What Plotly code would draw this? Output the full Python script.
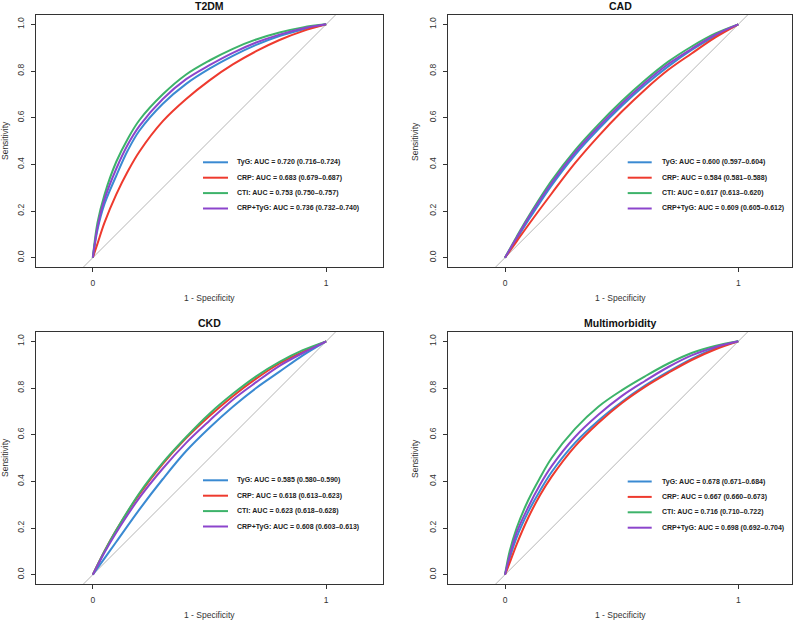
import plotly.graph_objects as go

# ---------------- data ----------------
titles = ["T2DM", "CAD", "CKD", "Multimorbidity"]
markers = ["TyG", "CRP", "CTI", "CRP+TyG"]
colors = ["#3A8AD2", "#EE3A2E", "#3DB36A", "#8C45CC"]

fpr_t2dm = [0, 0.02, 0.05, 0.1, 0.15, 0.2, 0.3, 0.4, 0.5, 0.6, 0.7, 0.8, 0.9, 1.0]
tpr_t2dm = {
    "TyG":     [0, 0.12, 0.23, 0.35, 0.46, 0.545, 0.66, 0.745, 0.81, 0.865, 0.912, 0.95, 0.978, 1],
    "CRP":     [0, 0.06, 0.15, 0.27, 0.37, 0.455, 0.585, 0.68, 0.76, 0.828, 0.885, 0.933, 0.971, 1],
    "CTI":     [0, 0.15, 0.27, 0.41, 0.51, 0.59, 0.70, 0.785, 0.845, 0.895, 0.935, 0.965, 0.987, 1],
    "CRP+TyG": [0, 0.13, 0.25, 0.38, 0.485, 0.565, 0.68, 0.765, 0.825, 0.878, 0.922, 0.956, 0.982, 1],
}
fpr_cad = [0, 0.05, 0.1, 0.2, 0.3, 0.4, 0.5, 0.6, 0.7, 0.8, 0.9, 1.0]
tpr_cad = {
    "TyG":     [0, 0.08, 0.16, 0.31, 0.44, 0.55, 0.65, 0.74, 0.82, 0.89, 0.95, 1],
    "CRP":     [0, 0.07, 0.14, 0.275, 0.405, 0.52, 0.625, 0.72, 0.805, 0.875, 0.943, 1],
    "CTI":     [0, 0.09, 0.175, 0.33, 0.46, 0.57, 0.67, 0.76, 0.84, 0.905, 0.96, 1],
    "CRP+TyG": [0, 0.085, 0.17, 0.32, 0.45, 0.56, 0.66, 0.75, 0.83, 0.895, 0.955, 1],
}
fpr_ckd = [0, 0.05, 0.1, 0.2, 0.3, 0.4, 0.5, 0.6, 0.7, 0.8, 0.9, 1.0]
tpr_ckd = {
    "TyG":     [0, 0.07, 0.14, 0.28, 0.41, 0.53, 0.63, 0.72, 0.80, 0.87, 0.94, 1],
    "CRP":     [0, 0.10, 0.19, 0.345, 0.475, 0.585, 0.68, 0.765, 0.84, 0.905, 0.955, 1],
    "CTI":     [0, 0.10, 0.19, 0.35, 0.48, 0.59, 0.69, 0.775, 0.85, 0.912, 0.962, 1],
    "CRP+TyG": [0, 0.095, 0.18, 0.33, 0.455, 0.565, 0.66, 0.75, 0.825, 0.895, 0.95, 1],
}
fpr_mm = [0, 0.02, 0.05, 0.1, 0.15, 0.2, 0.3, 0.4, 0.5, 0.6, 0.7, 0.8, 0.9, 1.0]
tpr_mm = {
    "TyG":     [0, 0.07, 0.16, 0.27, 0.36, 0.44, 0.565, 0.66, 0.74, 0.81, 0.87, 0.925, 0.97, 1],
    "CRP":     [0, 0.05, 0.13, 0.245, 0.34, 0.42, 0.55, 0.65, 0.735, 0.805, 0.865, 0.92, 0.965, 1],
    "CTI":     [0, 0.10, 0.20, 0.32, 0.415, 0.50, 0.625, 0.72, 0.79, 0.85, 0.905, 0.95, 0.98, 1],
    "CRP+TyG": [0, 0.08, 0.18, 0.29, 0.385, 0.465, 0.59, 0.685, 0.765, 0.83, 0.89, 0.94, 0.975, 1],
}
auc_t2dm = ["0.720 (0.716–0.724)", "0.683 (0.679–0.687)", "0.753 (0.750–0.757)", "0.736 (0.732–0.740)"]
auc_cad = ["0.600 (0.597–0.604)", "0.584 (0.581–0.588)", "0.617 (0.613–0.620)", "0.609 (0.605–0.612)"]
auc_ckd = ["0.585 (0.580–0.590)", "0.618 (0.613–0.623)", "0.623 (0.618–0.628)", "0.608 (0.603–0.613)"]
auc_mm = ["0.678 (0.671–0.684)", "0.667 (0.660–0.673)", "0.716 (0.710–0.722)", "0.698 (0.692–0.704)"]

diag = [-0.3, 1.3]
x_ticks = [0, 1]
y_ticks = [0, 0.2, 0.4, 0.6, 0.8, 1.0]

# ---------------- layout ----------------
W, H = 796, 622
FONT = "Liberation Sans, Arial, sans-serif"

panels = [
    dict(fpr=fpr_t2dm, tpr=tpr_t2dm, auc=auc_t2dm, box=(36, 383, 15, 267), xr=(-0.2435, 1.2435),
         leg_x=(203, 228, 235), leg_y=162.3, ylab_x=5),
    dict(fpr=fpr_cad, tpr=tpr_cad, auc=auc_cad, box=(448, 792, 15, 267), xr=(-0.2443, 1.2302),
         leg_x=(627.7, 651.7, 660), leg_y=162.3, ylab_x=415),
    dict(fpr=fpr_ckd, tpr=tpr_ckd, auc=auc_ckd, box=(36, 383, 332, 584), xr=(-0.2435, 1.2435),
         leg_x=(203, 228, 235), leg_y=480.3, ylab_x=5),
    dict(fpr=fpr_mm, tpr=tpr_mm, auc=auc_mm, box=(448, 792, 332, 584), xr=(-0.2443, 1.2302),
         leg_x=(627.7, 651.7, 660), leg_y=481.5, ylab_x=415),
]

fig = go.Figure()
shapes, annotations = [], []
layout = {}

def px(x):
    return x / W

def py(y):
    return 1 - y / H

for i, p in enumerate(panels):
    n = "" if i == 0 else str(i + 1)
    xa, ya = "x" + n, "y" + n
    x0, x1, y0, y1 = p["box"]
    axis_common = dict(showgrid=False, zeroline=False, showline=True, mirror=True,
                       linecolor="#333333", linewidth=1, ticks="outside", ticklen=4,
                       tickcolor="#333333", tickwidth=1,
                       tickfont=dict(family=FONT, size=8.5, color="#333333"), fixedrange=True)
    layout["xaxis" + n] = dict(axis_common, domain=[px(x0), px(x1)], range=list(p["xr"]),
                               anchor=ya, tickvals=x_ticks, ticktext=["0", "1"],
                               ticklabelstandoff=4)
    layout["yaxis" + n] = dict(axis_common, domain=[py(y1), py(y0)], range=[-0.04, 1.04],
                               anchor=xa, tickvals=y_ticks, tickformat=".1f", tickangle=-90,
                               ticklabelstandoff=4)
    # chance line
    fig.add_trace(go.Scatter(x=diag, y=diag, mode="lines", xaxis=xa, yaxis=ya,
                             line=dict(color="#B5B5B5", width=1), showlegend=False,
                             hoverinfo="skip"))
    for m, c in zip(markers, colors):
        fig.add_trace(go.Scatter(x=p["fpr"], y=p["tpr"][m], mode="lines", name=m,
                                 xaxis=xa, yaxis=ya, showlegend=False,
                                 line=dict(color=c, width=2, shape="spline", smoothing=1.0)))
    cx = (x0 + x1) / 2
    # titles
    annotations.append(dict(text="<b>%s</b>" % titles[i], x=px(cx), y=py(y0 - 9),
                            xref="paper", yref="paper", showarrow=False,
                            font=dict(family=FONT, size=10.5, color="#111111"),
                            xanchor="center", yanchor="middle"))
    annotations.append(dict(text="1 - Specificity", x=px(cx), y=py(y1 + 31),
                            xref="paper", yref="paper", showarrow=False,
                            font=dict(family=FONT, size=8.5, color="#333333"),
                            xanchor="center", yanchor="middle"))
    annotations.append(dict(text="Sensitivity", x=px(p["ylab_x"]), y=py((y0 + y1) / 2),
                            xref="paper", yref="paper", showarrow=False, textangle=-90,
                            font=dict(family=FONT, size=8.5, color="#333333"),
                            xanchor="center", yanchor="middle"))
    # legend
    lx0, lx1, tx = p["leg_x"]
    for k, (m, c) in enumerate(zip(markers, colors)):
        yy = p["leg_y"] + k * 15.4
        shapes.append(dict(type="line", xref="paper", yref="paper",
                           x0=px(lx0), x1=px(lx1), y0=py(yy), y1=py(yy),
                           line=dict(color=c, width=2)))
        annotations.append(dict(text="<b>%s: AUC = %s</b>" % (m, p["auc"][k]),
                                x=px(tx), y=py(yy), xref="paper", yref="paper",
                                showarrow=False, xanchor="left", yanchor="middle",
                                font=dict(family=FONT, size=7, color="#222222")))

fig.update_layout(width=W, height=H, margin=dict(l=0, r=0, t=0, b=0),
                  paper_bgcolor="white", plot_bgcolor="white",
                  shapes=shapes, annotations=annotations, showlegend=False, **layout)

fig.write_html("out.html")
